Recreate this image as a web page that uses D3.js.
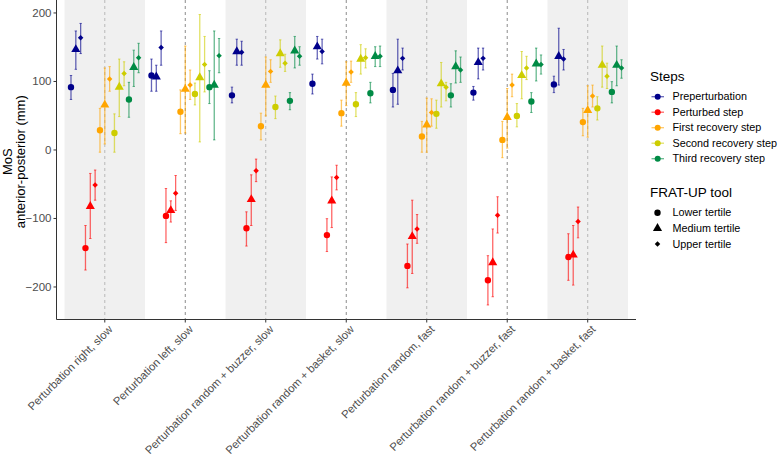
<!DOCTYPE html>
<html>
<head>
<meta charset="utf-8">
<script src="https://cdn.jsdelivr.net/npm/d3@7"></script>
<style>
  body { margin: 0; background: #fff; }
  text { font-family: "Liberation Sans", Arial, sans-serif; }
</style>
</head>
<body>
<div id="chart"></div>
<script>
// categories and groups
const conditions = [
  'Perturbation right, slow',
  'Perturbation left, slow',
  'Perturbation random + buzzer, slow',
  'Perturbation random + basket, slow',
  'Perturbation random, fast',
  'Perturbation random + buzzer, fast',
  'Perturbation random + basket, fast'
]
const steps = ['Preperturbation', 'Perturbed step', 'First recovery step', 'Second recovery step', 'Third recovery step']
const stepColors = ['#00008B', '#FF0000', '#FFA500', '#CDCD00', '#008B45']
const tertiles = ['Lower tertile', 'Medium tertile', 'Upper tertile']
const yTicks = [-200, -100, 0, 100, 200]

// values per condition: [lower, medium, upper] tertile, as [mean, low, high]
const preperturbation = [
  [[91, 73, 108], [146, 117, 173], [163, 140, 184]],
  [[108, 85, 132], [106, 85, 123], [149, 123, 173]],
  [[79, 68, 91], [143, 123, 161], [142, 123, 158]],
  [[96, 81, 110], [150, 132, 165], [143, 125, 161]],
  [[87, 62, 111], [115, 66, 161], [133, 116, 148]],
  [[83, 72, 92], [127, 103, 148], [133, 116, 148]],
  [[95, 83, 107], [136, 94, 177], [132, 116, 146]]
]
const perturbedStep = [
  [[-144, -176, -111], [-83, -130, -35], [-52, -74, -30]],
  [[-97, -136, -57], [-89, -106, -75], [-64, -89, -38]],
  [[-115, -141, -91], [-73, -111, -37], [-31, -47, -14]],
  [[-125, -149, -101], [-75, -114, -40], [-41, -59, -23]],
  [[-170, -202, -138], [-127, -181, -74], [-116, -137, -95]],
  [[-191, -227, -155], [-165, -215, -116], [-96, -122, -69]],
  [[-157, -191, -123], [-154, -198, -111], [-105, -129, -84]]
]
const firstRecovery = [
  [[28, -4, 60], [65, 8, 119], [103, 85, 121]],
  [[55, 23, 87], [88, 24, 151], [94, 73, 116]],
  [[34, 14, 53], [94, 49, 135], [114, 98, 131]],
  [[53, 34, 72], [97, 64, 128], [113, 98, 129]],
  [[19, -4, 41], [36, -4, 75], [54, 34, 74]],
  [[14, -12, 41], [47, 2, 89], [94, 77, 110]],
  [[40, 20, 60], [57, 18, 93], [78, 62, 94]]
]
const secondRecovery = [
  [[24, -4, 52], [91, 48, 132], [111, 93, 128]],
  [[81, 65, 97], [105, 11, 197], [124, 84, 165]],
  [[62, 45, 78], [140, 120, 160], [126, 114, 139]],
  [[66, 48, 83], [132, 110, 153], [134, 119, 147]],
  [[52, 31, 72], [96, 62, 127], [91, 71, 98]],
  [[49, 33, 67], [108, 74, 143], [119, 102, 136]],
  [[60, 43, 77], [123, 91, 151], [107, 89, 126]]
]
const thirdRecovery = [
  [[73, 47, 98], [120, 92, 145], [134, 112, 155]],
  [[91, 67, 115], [94, 14, 173], [137, 112, 162]],
  [[71, 58, 83], [144, 119, 165], [136, 123, 150]],
  [[82, 68, 98], [136, 121, 150], [136, 121, 151]],
  [[79, 62, 96], [121, 97, 144], [116, 98, 135]],
  [[70, 54, 83], [125, 100, 148], [124, 110, 138]],
  [[84, 68, 99], [123, 93, 151], [119, 104, 131]]
]
const stepData = [preperturbation, perturbedStep, firstRecovery, secondRecovery, thirdRecovery]

// flatten into rows
let rows = []
for (let s = 0; s < steps.length; s++) {
  for (let c = 0; c < conditions.length; c++) {
    for (let t = 0; t < tertiles.length; t++) {
      const v = stepData[s][c][t]
      rows.push({ cond: conditions[c], step: s, tert: t, mean: v[0], lo: v[1], hi: v[2] })
    }
  }
}

let svgWidth = 779,
  svgHeight = 456
let panel = { left: 56.5, right: 636, top: 0, bottom: 319.5 }

let svg = d3
  .select('#chart')
  .append('svg')
  .attr('width', svgWidth)
  .attr('height', svgHeight)

// scales
let x = d3.scaleBand().domain(conditions).range([panel.left, panel.right]).paddingInner(0).paddingOuter(0.1)
let dodge = d3
  .scaleBand()
  .domain(d3.range(15))
  .range([-x.step() * 0.45, x.step() * 0.45])

let yMin = d3.min(rows, (d) => d.lo),
  yMax = d3.max(rows, (d) => d.hi)
let pad = (yMax - yMin) * 0.05
let y = d3.scaleLinear().domain([yMin - pad, yMax + pad]).range([panel.bottom, panel.top])

// grey bands on alternate conditions
svg
  .append('g')
  .selectAll('rect')
  .data(conditions.filter((d, i) => i % 2 == 0))
  .enter()
  .append('rect')
  .attr('x', (d) => x(d))
  .attr('y', panel.top)
  .attr('width', x.bandwidth())
  .attr('height', panel.bottom - panel.top)
  .attr('fill', '#F0F0F0')

// dashed centre lines
svg
  .append('g')
  .selectAll('line')
  .data(conditions)
  .enter()
  .append('line')
  .attr('x1', (d) => x(d) + x.bandwidth() / 2)
  .attr('x2', (d) => x(d) + x.bandwidth() / 2)
  .attr('y1', panel.top)
  .attr('y2', panel.bottom)
  .attr('stroke', (d, i) => (i % 2 == 0 ? '#A8A8A8' : '#6E6E6E'))
  .attr('stroke-width', 0.8)
  .attr('stroke-dasharray', '3,3')

function px(d) {
  return x(d.cond) + x.bandwidth() / 2 + dodge(d.step * 3 + d.tert) + dodge.bandwidth() / 2
}

// error bars
let bars = svg.append('g')
bars
  .selectAll('line.bar')
  .data(rows)
  .enter()
  .append('line')
  .attr('class', 'bar')
  .attr('x1', px)
  .attr('x2', px)
  .attr('y1', (d) => y(d.lo))
  .attr('y2', (d) => y(d.hi))
  .attr('stroke', (d) => stepColors[d.step])
  .attr('stroke-opacity', 0.6)
  .attr('stroke-width', 1.3)
bars
  .selectAll('path.cap')
  .data(rows)
  .enter()
  .append('path')
  .attr('class', 'cap')
  .attr('d', (d) => {
    let cx = px(d)
    return 'M' + (cx - 1.2) + ',' + y(d.lo) + 'H' + (cx + 1.2) + 'M' + (cx - 1.2) + ',' + y(d.hi) + 'H' + (cx + 1.2)
  })
  .attr('stroke', (d) => stepColors[d.step])
  .attr('stroke-opacity', 0.6)
  .attr('stroke-width', 1)
  .attr('fill', 'none')

// points
const shapes = [d3.symbol(d3.symbolCircle, 32), d3.symbol(d3.symbolTriangle, 36), d3.symbol(d3.symbolSquare, 15)]
svg
  .append('g')
  .selectAll('path')
  .data(rows)
  .enter()
  .append('path')
  .attr('d', (d) => shapes[d.tert]())
  .attr('transform', (d) => 'translate(' + px(d) + ',' + y(d.mean) + ')' + (d.tert == 2 ? ' rotate(45)' : ''))
  .attr('fill', (d) => stepColors[d.step])

// axes
let yAxis = svg
  .append('g')
  .attr('transform', 'translate(' + panel.left + ',0)')
  .call(d3.axisLeft(y).tickValues(yTicks).tickSize(3).tickPadding(2))
yAxis.select('.domain').attr('stroke', '#333').attr('d', 'M0,' + panel.top + 'V' + panel.bottom)
yAxis.selectAll('.tick line').attr('stroke', '#333')
yAxis.selectAll('.tick text').attr('fill', '#4D4D4D').style('font-size', '11.5px')

let xAxis = svg
  .append('g')
  .attr('transform', 'translate(0,' + panel.bottom + ')')
  .call(d3.axisBottom(x).tickSize(3).tickFormat(''))
xAxis.select('.domain').attr('stroke', '#333').attr('d', 'M' + panel.left + ',0H' + panel.right)
xAxis.selectAll('.tick line').attr('stroke', '#333')

svg
  .append('g')
  .selectAll('text')
  .data(conditions)
  .enter()
  .append('text')
  .attr('transform', (d) => 'translate(' + (x(d) + x.bandwidth() / 2 + 3) + ',' + (panel.bottom + 5) + ') rotate(-45)')
  .attr('text-anchor', 'end')
  .attr('dy', '0.7em')
  .attr('fill', '#4D4D4D')
  .style('font-size', '11.2px')
  .text((d) => d)

// y title
let yTitle = svg
  .append('text')
  .attr('transform', 'translate(0,' + (panel.top + panel.bottom + 4) / 2 + ') rotate(-90)')
  .attr('text-anchor', 'middle')
  .style('font-size', '13px')
  .attr('fill', '#000')
yTitle.append('tspan').attr('x', 0).attr('y', 12).text('MoS')
yTitle.append('tspan').attr('x', 0).attr('y', 25).text('anterior-posterior (mm)')

// legends
let leg = svg.append('g').attr('transform', 'translate(650,0)')
leg.append('text').attr('x', 0).attr('y', 81).style('font-size', '13.5px').text('Steps')
let stepItems = leg
  .selectAll('g.step')
  .data(steps)
  .enter()
  .append('g')
  .attr('transform', (d, i) => 'translate(0,' + (96.7 + i * 15.5) + ')')
stepItems
  .append('line')
  .attr('x1', 1.5)
  .attr('x2', 14)
  .attr('stroke', (d, i) => stepColors[i])
  .attr('stroke-opacity', 0.6)
  .attr('stroke-width', 1.3)
stepItems
  .append('circle')
  .attr('cx', 7.7)
  .attr('r', 3)
  .attr('fill', (d, i) => stepColors[i])
stepItems
  .append('text')
  .attr('x', 22.5)
  .attr('dy', '0.35em')
  .style('font-size', '10.8px')
  .text((d) => d)

leg.append('text').attr('x', 0).attr('y', 197).style('font-size', '13.5px').text('FRAT-UP tool')
let tertItems = leg
  .selectAll('g.tert')
  .data(tertiles)
  .enter()
  .append('g')
  .attr('transform', (d, i) => 'translate(0,' + (212.7 + i * 15.6) + ')')
tertItems
  .append('path')
  .attr('d', (d, i) => shapes[i]())
  .attr('transform', (d, i) => 'translate(7.5,0)' + (i == 2 ? ' rotate(45)' : ''))
  .attr('fill', '#000')
tertItems
  .append('text')
  .attr('x', 22.5)
  .attr('dy', '0.35em')
  .style('font-size', '10.8px')
  .text((d) => d)
</script>
</body>
</html>
